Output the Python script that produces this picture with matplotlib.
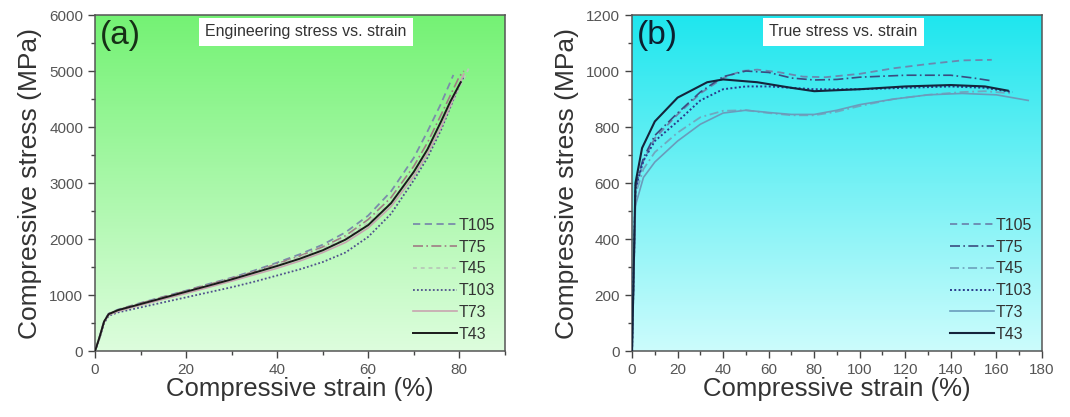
import numpy as np
import matplotlib
matplotlib.use('Agg')
import matplotlib.pyplot as plt
from matplotlib.colors import LinearSegmentedColormap
from matplotlib.ticker import MultipleLocator

plt.rcParams['font.family'] = ['Liberation Sans', 'DejaVu Sans']

labels = ['T105', 'T75', 'T45', 'T103', 'T73', 'T43']

# (a) engineering stress vs strain
eng_strain = {
    'T105': [0, 1, 2, 3, 5, 10, 15, 20, 25, 30, 35, 40, 45, 50, 55, 60, 65, 70, 73, 76, 78.7],
    'T75':  [0, 1, 2, 3, 5, 10, 15, 20, 25, 30, 35, 40, 45, 50, 55, 60, 65, 70, 73, 76, 78, 80, 81],
    'T45':  [0, 1, 2, 3, 5, 10, 15, 20, 25, 30, 35, 40, 45, 50, 55, 60, 65, 70, 73, 76, 78, 80, 82.4],
    'T103': [0, 1, 2, 3, 5, 10, 15, 20, 25, 30, 35, 40, 45, 50, 55, 60, 65, 70, 73, 76, 78, 80, 81],
    'T73':  [0, 1, 2, 3, 5, 10, 15, 20, 25, 30, 35, 40, 45, 50, 55, 60, 65, 70, 73, 76, 78, 80, 81],
    'T43':  [0, 1, 2, 3, 5, 10, 15, 20, 25, 30, 35, 40, 45, 50, 55, 60, 65, 70, 73, 76, 78, 80.3],
}
eng_stress = {
    'T105': [0, 260, 540, 670, 740, 860, 970, 1080, 1200, 1310, 1440, 1580, 1730, 1900, 2120, 2420, 2850, 3450, 3920, 4420, 4930],
    'T75':  [0, 255, 535, 665, 735, 855, 965, 1075, 1190, 1300, 1420, 1560, 1700, 1860, 2060, 2350, 2740, 3300, 3720, 4220, 4560, 4900, 5000],
    'T45':  [0, 240, 520, 650, 720, 840, 950, 1060, 1170, 1290, 1410, 1540, 1680, 1830, 2020, 2290, 2660, 3180, 3550, 4000, 4340, 4700, 5100],
    'T103': [0, 230, 500, 630, 690, 780, 870, 960, 1050, 1140, 1240, 1350, 1460, 1590, 1760, 2040, 2450, 3050, 3450, 3950, 4350, 4750, 4900],
    'T73':  [0, 245, 515, 645, 710, 820, 925, 1030, 1140, 1250, 1365, 1480, 1610, 1760, 1940, 2200, 2580, 3120, 3520, 4000, 4380, 4760, 4950],
    'T43':  [0, 250, 530, 660, 730, 840, 950, 1060, 1170, 1280, 1400, 1520, 1650, 1800, 1990, 2250, 2640, 3200, 3600, 4100, 4450, 4800],
}

# (b) true stress vs strain
true_strain = {
    'T105': [0, 1.5, 5, 10, 20, 30, 40, 48, 55, 65, 75, 85, 100, 115, 130, 145, 158],
    'T75':  [0, 1.5, 5, 10, 20, 30, 40, 50, 60, 70, 80, 90, 100, 120, 140, 150, 158],
    'T45':  [0, 1.5, 5, 10, 20, 30, 40, 50, 60, 70, 80, 90, 100, 115, 130, 145, 155, 167],
    'T103': [0, 1.5, 5, 10, 20, 30, 40, 50, 60, 70, 80, 100, 120, 140, 155, 167],
    'T73':  [0, 1.5, 5, 10, 20, 30, 40, 50, 60, 70, 80, 90, 100, 115, 130, 145, 160, 174],
    'T43':  [0, 1.5, 4.4, 10, 20, 33, 40, 55, 70, 80, 100, 120, 140, 155, 165],
}
true_stress = {
    'T105': [0, 580, 680, 760, 845, 920, 975, 1000, 1005, 995, 980, 978, 990, 1010, 1025, 1038, 1040],
    'T75':  [0, 590, 690, 770, 850, 925, 980, 1000, 995, 975, 968, 970, 978, 985, 985, 975, 965],
    'T45':  [0, 560, 650, 710, 780, 835, 858, 860, 850, 842, 842, 855, 875, 900, 915, 925, 928, 920],
    'T103': [0, 580, 680, 750, 820, 895, 935, 945, 945, 940, 935, 935, 940, 945, 940, 925],
    'T73':  [0, 520, 620, 675, 750, 810, 850, 860, 852, 845, 845, 860, 880, 900, 915, 920, 915, 895],
    'T43':  [0, 600, 725, 820, 905, 960, 970, 960, 940, 928, 935, 945, 950, 945, 930],
}

styles_a = {
    'T105': dict(color='#7a8caa', ls=(0, (4, 2.5)), lw=1.3),
    'T75':  dict(color='#a07c84', ls=(0, (6, 2, 1, 2)), lw=1.2),
    'T45':  dict(color='#b8ccb8', ls=(0, (2, 2)), lw=1.4),
    'T103': dict(color='#50508c', ls=(0, (1, 1.2)), lw=1.3),
    'T73':  dict(color='#c8a4b0', ls='-', lw=1.2),
    'T43':  dict(color='#1a1a1a', ls='-', lw=1.4),
}
styles_b = {
    'T105': dict(color='#6a88b0', ls=(0, (4, 2.5)), lw=1.3),
    'T75':  dict(color='#3a4c80', ls=(0, (6, 2, 1, 2)), lw=1.2),
    'T45':  dict(color='#70a8c0', ls=(0, (5, 2, 1, 2)), lw=1.3),
    'T103': dict(color='#2a3a8c', ls=(0, (1, 1.2)), lw=1.4),
    'T73':  dict(color='#6a9cbc', ls='-', lw=1.2),
    'T43':  dict(color='#14243c', ls='-', lw=1.5),
}


def gradient_bg(ax, top, bottom):
    cmap = LinearSegmentedColormap.from_list('bg', [bottom, top])
    grad = np.linspace(0, 1, 256).reshape(-1, 1)
    ax.imshow(grad, cmap=cmap, aspect='auto', origin='lower',
              extent=[0, 1, 0, 1], transform=ax.transAxes, zorder=0)


def style_axes(ax, xmax, xmaj, ymax, ymaj):
    ax.set_xlim(0, xmax)
    ax.set_ylim(0, ymax)
    ax.xaxis.set_major_locator(MultipleLocator(xmaj))
    ax.xaxis.set_minor_locator(MultipleLocator(xmaj / 2))
    ax.yaxis.set_major_locator(MultipleLocator(ymaj))
    ax.yaxis.set_minor_locator(MultipleLocator(ymaj / 2))
    ax.tick_params(which='major', direction='out', length=5, width=1,
                   color='#444444', labelsize=11, labelcolor='#555555')
    ax.tick_params(which='minor', direction='out', length=3, width=1, color='#444444')
    for s in ax.spines.values():
        s.set_color('#555555')
        s.set_linewidth(1.1)
    ax.set_xlabel('Compressive strain (%)', fontsize=18.5, color='#333333', labelpad=0)
    ax.set_ylabel('Compressive stress (MPa)', fontsize=19, color='#333333', labelpad=5)


fig = plt.figure(figsize=(10.7, 4.17), dpi=100)
ax1 = fig.add_axes([0.0888, 0.158, 0.383, 0.806])
ax2 = fig.add_axes([0.5907, 0.158, 0.383, 0.806])

gradient_bg(ax1, '#74f274', '#ddfddd')
gradient_bg(ax2, '#1ee6ee', '#ccfcfc')

for lab in labels:
    ax1.plot(eng_strain[lab], eng_stress[lab], label=lab, zorder=3, **styles_a[lab])
    ax2.plot(true_strain[lab], true_stress[lab], label=lab, zorder=3, **styles_b[lab])

style_axes(ax1, 90, 20, 6000, 1000)
style_axes(ax2, 180, 20, 1200, 200)

for ax, tag, title, tcol in [(ax1, '(a)', 'Engineering stress vs. strain', '#163016'),
                             (ax2, '(b)', 'True stress vs. strain', '#0c2030')]:
    ax.text(0.012, 0.985, tag, transform=ax.transAxes, fontsize=24,
            color=tcol, va='top', ha='left', zorder=5)
    ax.text(0.515, 0.95, title, transform=ax.transAxes, fontsize=11.5,
            color='#333333', va='center', ha='center', zorder=5,
            bbox=dict(boxstyle='square,pad=0.4', fc='white', ec='none'))
    leg = ax.legend(loc='lower right', frameon=False, fontsize=11.5,
                    handlelength=2.8, handletextpad=0.1, labelspacing=0.42,
                    borderaxespad=0.2)
    for t in leg.get_texts():
        t.set_color('#333333')

fig.savefig('out.png', dpi=100)
